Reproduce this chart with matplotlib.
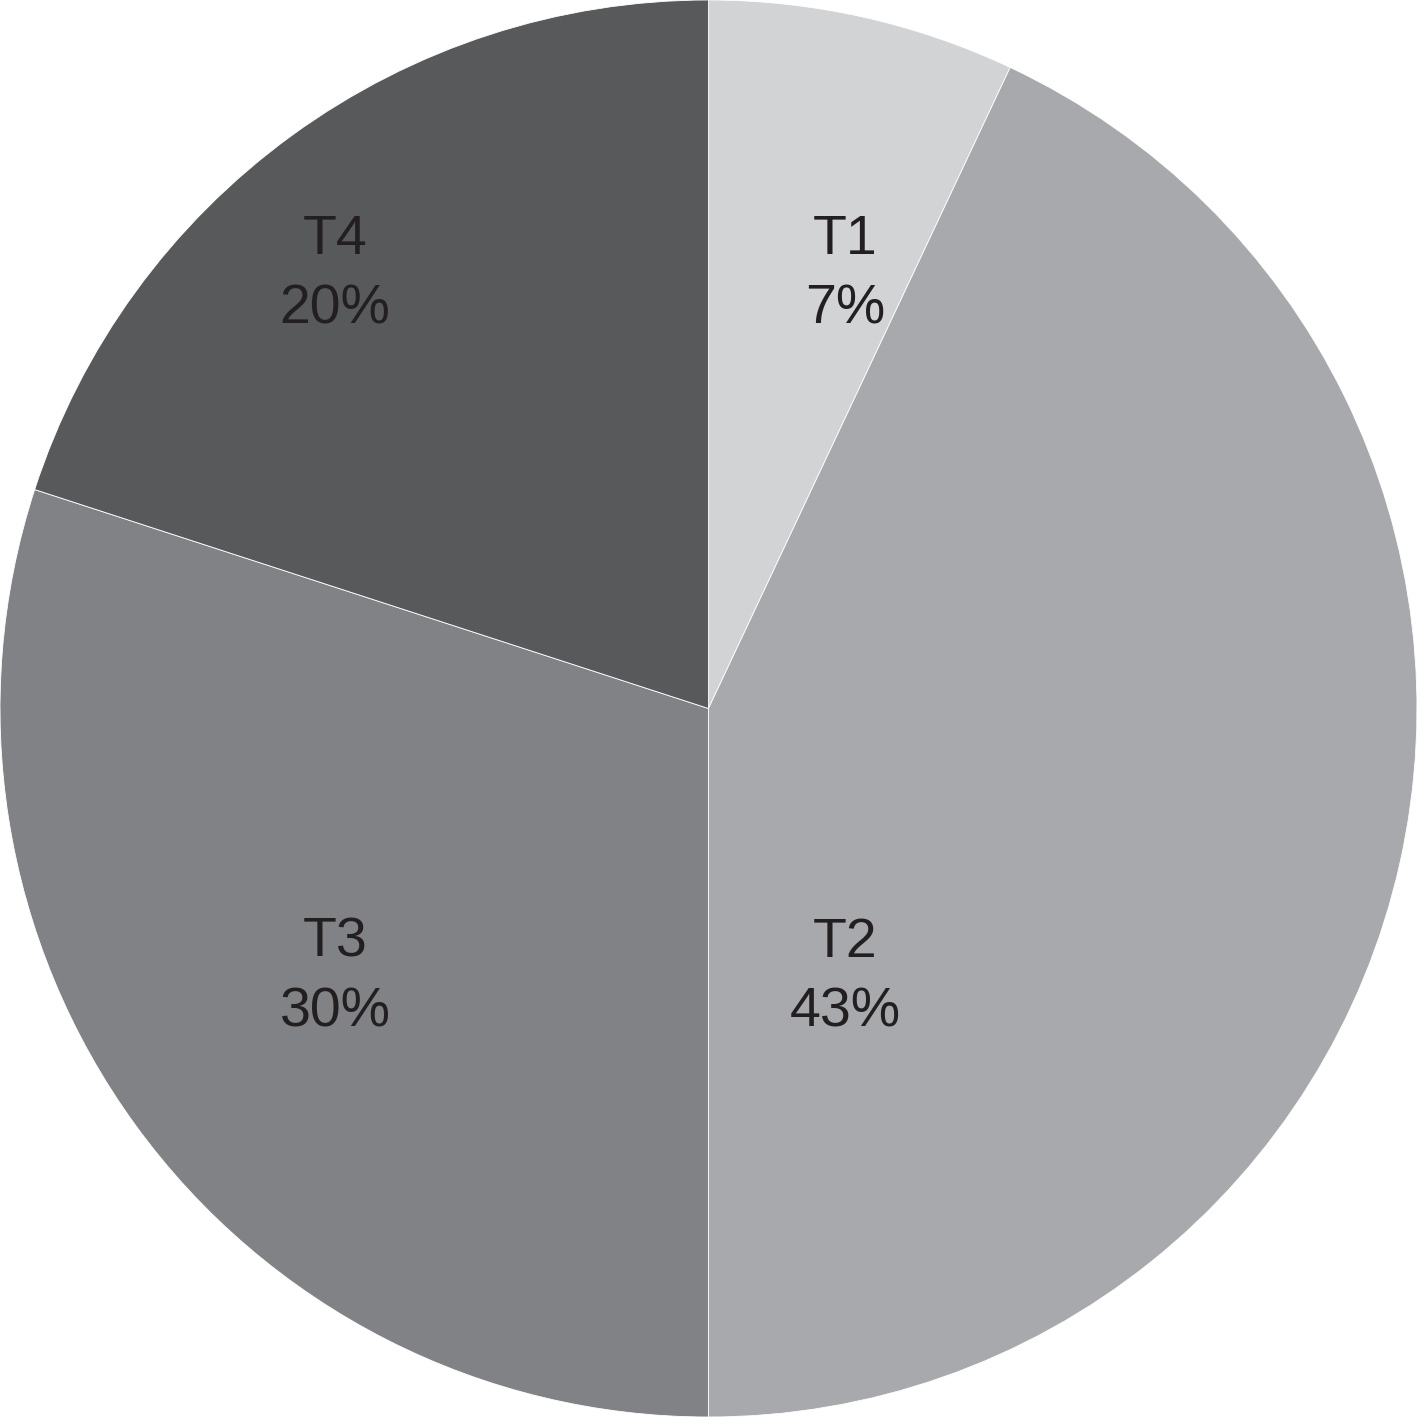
import matplotlib.pyplot as plt

# data
labels = ['T1', 'T2', 'T3', 'T4']
values = [7, 43, 30, 20]
colors = ['#d1d3d4', '#a7a9ac', '#808285', '#58595b']

# label spots (picked by hand in the original)
label_pos = [(0.193, 0.612), (0.193, -0.38), (-0.527, -0.38), (-0.527, 0.612)]

plt.rcParams['font.family'] = ['Liberation Sans', 'DejaVu Sans']

fig = plt.figure(figsize=(14.17, 14.17), dpi=100)
ax = fig.add_axes([0, 0, 1, 1])
ax.pie(values, colors=colors, startangle=90, counterclock=False,
       radius=1.0, wedgeprops={'edgecolor': 'white', 'linewidth': 0.6})
ax.set_xlim(-1.0, 1.0)
ax.set_ylim(-1.0, 1.0)
ax.set_aspect('equal')
ax.axis('off')

for lab, v, (x, y) in zip(labels, values, label_pos):
    ax.text(x, y, lab + '\n' + str(v) + '%', ha='center', va='center',
            fontsize=40, color='#231f20', linespacing=1.45)

fig.savefig('out.png', dpi=100, facecolor='white')
